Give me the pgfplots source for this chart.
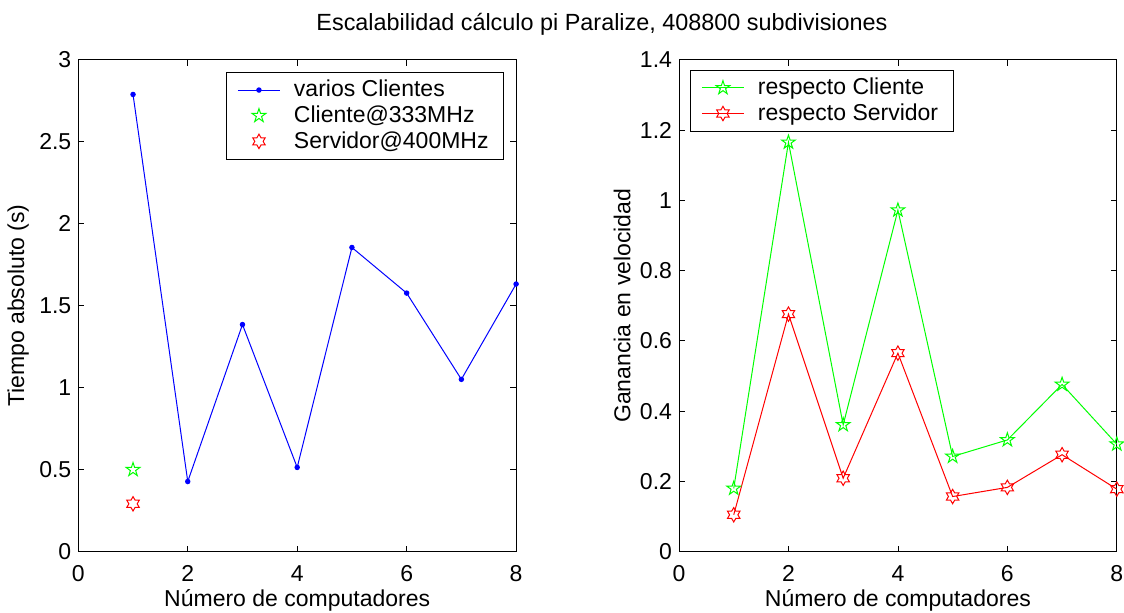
\documentclass[border=0pt]{standalone}
\usepackage{pgfplots}
\pgfplotsset{compat=1.18}
\usepackage{fontspec}
\setmainfont{Liberation Sans}

\pgfdeclareplotmark{pentagram}{%
  \pgfpathmoveto{\pgfpointpolar{90}{\pgfplotmarksize}}%
  \pgfpathlineto{\pgfpointpolar{126}{0.382\pgfplotmarksize}}%
  \pgfpathlineto{\pgfpointpolar{162}{\pgfplotmarksize}}%
  \pgfpathlineto{\pgfpointpolar{198}{0.382\pgfplotmarksize}}%
  \pgfpathlineto{\pgfpointpolar{234}{\pgfplotmarksize}}%
  \pgfpathlineto{\pgfpointpolar{270}{0.382\pgfplotmarksize}}%
  \pgfpathlineto{\pgfpointpolar{306}{\pgfplotmarksize}}%
  \pgfpathlineto{\pgfpointpolar{342}{0.382\pgfplotmarksize}}%
  \pgfpathlineto{\pgfpointpolar{18}{\pgfplotmarksize}}%
  \pgfpathlineto{\pgfpointpolar{54}{0.382\pgfplotmarksize}}%
  \pgfpathclose\pgfusepathqstroke}
\pgfdeclareplotmark{hexagram}{%
  \pgfpathmoveto{\pgfpointpolar{90}{\pgfplotmarksize}}%
  \pgfpathlineto{\pgfpointpolar{120}{0.577\pgfplotmarksize}}%
  \pgfpathlineto{\pgfpointpolar{150}{\pgfplotmarksize}}%
  \pgfpathlineto{\pgfpointpolar{180}{0.577\pgfplotmarksize}}%
  \pgfpathlineto{\pgfpointpolar{210}{\pgfplotmarksize}}%
  \pgfpathlineto{\pgfpointpolar{240}{0.577\pgfplotmarksize}}%
  \pgfpathlineto{\pgfpointpolar{270}{\pgfplotmarksize}}%
  \pgfpathlineto{\pgfpointpolar{300}{0.577\pgfplotmarksize}}%
  \pgfpathlineto{\pgfpointpolar{330}{\pgfplotmarksize}}%
  \pgfpathlineto{\pgfpointpolar{0}{0.577\pgfplotmarksize}}%
  \pgfpathlineto{\pgfpointpolar{30}{\pgfplotmarksize}}%
  \pgfpathlineto{\pgfpointpolar{60}{0.577\pgfplotmarksize}}%
  \pgfpathclose\pgfusepathqstroke}

\definecolor{mblue}{rgb}{0,0,1}
\definecolor{mgreen}{rgb}{0,1,0}
\definecolor{mred}{rgb}{1,0,0}

\pgfplotsset{
  linelegend/.style={legend image code/.code={\path[draw=none,fill=none] (0pt,0pt) rectangle (26pt,0.1pt); \draw[##1] (0pt,0pt) -- (21pt,0pt); \draw[##1, only marks] plot coordinates {(10.5pt,0pt)};}},
  markonlylegend/.style={legend image code/.code={\path[draw=none,fill=none] (0pt,0pt) rectangle (26pt,0.1pt); \draw[##1] plot coordinates {(10.5pt,0pt)};}},
}

\begin{document}
\begin{tikzpicture}
\useasboundingbox (0pt,0pt) rectangle (562pt,306pt);
\pgfplotsset{
  every axis/.append style={
    font=\fontsize{11.5}{13}\selectfont,
    scale only axis, width=218.9pt, height=246pt,
    xmin=0, xmax=8, xtick={0,2,4,6,8},
    tick align=inside, major tick length=3pt,
    axis line style={line width=0.5pt},
    every tick/.style={black, line width=0.4pt},
    /pgf/number format/assume math mode=true,
    xticklabel style={anchor=base, yshift=-15pt},
    xlabel={Número de computadores},
    xlabel style={at={(axis description cs:0.5,0)}, anchor=base, yshift=-27.5pt},
    legend cell align=left,
    legend style={draw=black, line width=0.5pt, inner xsep=5.5pt, row sep=-1pt, font=\fontsize{11.5}{13}\selectfont},
    linelegend,
    anchor=south west,
  }
}
\node[font=\fontsize{11.7}{13}\selectfont, anchor=base] at (301pt,290.5pt) {Escalabilidad cálculo pi Paralize, 408800 subdivisiones};

\begin{axis}[at={(39.15pt,30.15pt)},
  ymin=0, ymax=3, ytick={0,0.5,1,1.5,2,2.5,3},
  ylabel={Tiempo absoluto (s)},
  ylabel style={at={(axis description cs:-0.1371,0.5)}, anchor=center},
  legend style={at={(0.9726,0.9756)}, anchor=north east},
]
\addplot[mblue, line width=0.5pt, mark=*, mark size=1.1pt] coordinates {
(1,2.788) (2,0.428) (3,1.385) (4,0.514) (5,1.855) (6,1.577) (7,1.051) (8,1.632)};
\addlegendentry{varios Clientes}
\addplot[mgreen, only marks, mark=pentagram, mark size=3.6pt, line width=0.5pt, markonlylegend] coordinates {(1,0.5)};
\addlegendentry{Cliente@333MHz}
\addplot[mred, only marks, mark=hexagram, mark size=3.6pt, line width=0.5pt, markonlylegend] coordinates {(1,0.292)};
\addlegendentry{Servidor@400MHz}
\end{axis}

\begin{axis}[at={(339.5pt,30.15pt)},
  ymin=0, ymax=1.4, ytick={0,0.2,0.4,0.6,0.8,1,1.2,1.4},
  ylabel={Ganancia en velocidad},
  ylabel style={at={(axis description cs:-0.130,0.5)}, anchor=center},
  legend style={at={(0.025,0.98)}, anchor=north west},
]
\addplot[mgreen, line width=0.5pt, mark=pentagram, mark size=3.6pt] coordinates {
(1,0.180) (2,1.165) (3,0.361) (4,0.972) (5,0.271) (6,0.318) (7,0.476) (8,0.306)};
\addlegendentry{respecto Cliente}
\addplot[mred, line width=0.5pt, mark=hexagram, mark size=3.6pt] coordinates {
(1,0.105) (2,0.676) (3,0.209) (4,0.565) (5,0.157) (6,0.183) (7,0.276) (8,0.178)};
\addlegendentry{respecto Servidor}
\end{axis}
\end{tikzpicture}
\end{document}
